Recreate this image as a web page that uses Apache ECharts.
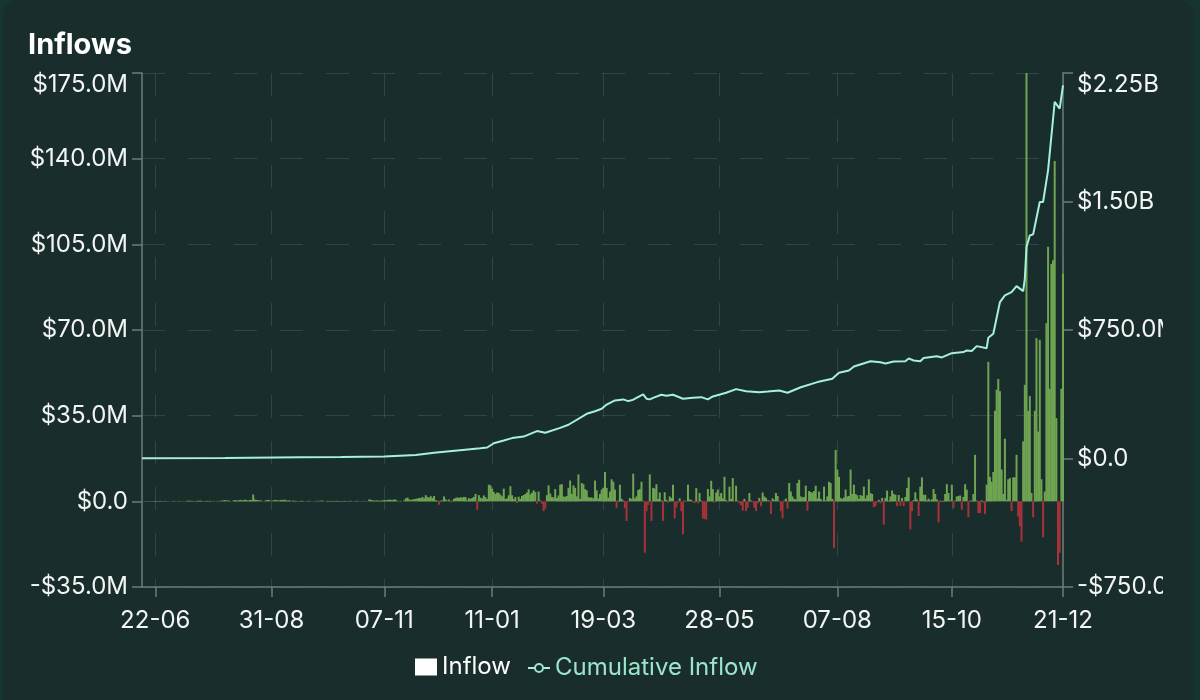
<!DOCTYPE html>
<html>
<head>
<meta charset="utf-8">
<title>Inflows</title>
<script src="https://cdn.jsdelivr.net/npm/echarts@6/dist/echarts.min.js"></script>
<style>
    html, body { margin: 0; height: 100%; background: #17352f; overflow: hidden; }
    #card { position: absolute; left: 3px; top: 0; width: 1191px; height: 700px; background: #192d2c; border-radius: 16px 16px 0 0; }
    #chart { position: absolute; left: 0; top: 0; width: 1163px; height: 700px; }
</style>
</head>
<body>
<div id="card"></div>
<div id="chart"></div>
<script>
// one bar per day, first day is 14-06
var startDay = [2024, 5, 14];

// daily inflow, $M (20 per row)
var inflow = [
    0,0,0.1,0,0.1,0.1,-0.1,0.1,0.2,0.1,0.1,0.2,-0.1,0.1,0.2,0.1,0.1,-0.1,0.1,0.2,
    0.1,-0.1,0.2,0.1,0.1,-0.2,0.1,0.2,0.3,0.2,0.2,0.1,-0.1,0.2,0.2,0.3,0.2,-0.1,0.1,0.2,
    0.1,0.2,0.1,0.2,-0.1,0.1,0.2,0.1,0.3,0.4,0.5,0.3,0.4,0.2,-0.1,0.3,0.5,0.4,0.3,0.6,
    0.5,0.4,0.7,0.5,0.3,0.6,0.5,2.8,0.7,0.6,0.5,0.4,0.3,-0.2,0.2,0.5,0.6,0.4,-0.2,0.3,
    0.6,0.5,0.4,0.4,0.6,0.5,0.7,0.4,0.3,0.4,-0.1,0.3,0.2,0.2,-0.1,0.1,0.2,0.2,-0.2,0.1,
    0.2,0.2,0.1,-0.1,0.1,0.2,0.2,0.2,0.3,0.3,-0.1,0.1,0.2,0.1,0.2,0.1,0.1,0.2,0.2,0.1,
    0.1,0.1,0.2,0.1,-0.1,0.2,0.2,0.1,0.1,0.2,0.2,0.1,0.1,0.1,0.2,-0.1,0.1,0.8,0.6,0.4,
    0.3,0.3,0.4,0.2,0.3,0.4,0.5,0.4,0.6,0.7,0.6,0.5,0.8,0.6,0.2,0.1,0.2,0,0.4,1.2,
    1.5,0.8,0.6,0.7,0.9,1.0,1.2,1.4,1.3,1.8,1.2,2.5,1.8,1.5,2.1,1.4,2.2,0.5,0.2,-1.4,
    0.3,0.4,2.0,0.8,0.3,0.8,-0.5,0.3,1.0,1.4,1.6,1.4,1.7,1.5,1.8,1.7,0.4,1.3,1.0,1.4,
    1.8,3.0,-3.5,2.5,1.5,1.2,2.4,1.7,1.0,6.8,6.5,5.2,3.8,3.0,3.6,3.4,2.7,2.0,5.2,1.0,
    1.2,2.5,6.2,2.5,1.0,1.8,-0.7,1.9,1.0,2.2,2.6,3.0,3.6,4.9,2.8,3.5,4.5,3.8,-1.0,4.0,
    0.3,-1.0,-4.0,-3.0,2.5,6.5,3.2,1.8,1.6,5.0,1.4,2.4,6.8,7.0,2.0,1.8,2.2,5.5,8.5,3.0,
    6.5,5.5,2.0,11,1.0,7.5,7.0,5.0,4.5,1.8,1.5,1.6,1.2,8.5,4.5,1.2,3.0,4.8,5.5,12,
    5.5,1.5,4.0,9.0,8.0,4.8,-2.7,0.3,6.8,1.0,0.3,-2.8,-8.0,0.2,1.4,1.0,11.3,1.2,2.0,4.6,
    5.0,8.0,0.2,-21,-4.0,-1.5,11,-8,5.5,5.2,7.0,1.0,3.6,0.4,-8,3.7,0.6,-0.5,2.0,1.4,
    6.8,-7,-2.5,-0.6,1.2,-4,-13.5,0.3,-0.3,6.8,0.8,0.6,-0.4,-0.7,5.4,-0.8,3.4,0.3,-7,-7.2,
    -7.5,5.0,2.0,8.4,5.0,-0.5,3.6,4.8,2.0,3.4,1.2,10,0.5,-0.4,6.0,1.0,9.5,-0.3,6.4,0.3,
    -0.8,-1.6,-3.8,1.0,-4.0,-2.6,3.4,0.3,-0.4,-2.6,-4.0,-0.8,1.4,-2.0,3.6,2.0,1.4,0.4,0.3,-5.2,
    1.2,0.5,3.4,2.2,0.2,-4,-7,0.3,1.1,-3,7.5,4.0,2.0,1.0,0.8,7.5,8.8,2.0,1.6,1.8,
    6.4,-3.8,4.2,3.8,3.5,4.2,6.4,1.2,4.0,1.0,0.3,6.0,0.4,2.0,8.0,7.5,1.0,-19,21,13,
    10,1.4,1.0,1.6,4.8,2.0,2.2,13,3.0,6.8,3.0,2.5,1.0,2.6,2.2,6.0,1.2,2.5,9.0,3.4,
    3.0,-2.4,-2.0,-0.5,0.6,-0.8,1.4,-9.5,1.4,4.4,0.3,2.0,4.4,3.0,2.7,-2.0,2.6,-1.8,1.4,-2.0,
    1.8,5.4,9.8,-11.5,-4.0,0.5,3.7,0.8,-6,6.0,9.8,2.7,2.7,0.4,1.1,0.3,0.8,5.0,3.0,0.8,
    -8.6,0.3,-0.4,0.3,3.0,7.0,3.4,0.4,6.8,-2.7,0.3,2.0,2.2,2.4,-3.4,1.8,7.0,4.8,-6.5,0.3,
    0.3,3.0,19,0.3,-4.8,-4.8,0.4,-0.6,-5.2,6.8,57,10,8.0,12,37,45.6,50,45,13,3.0,
    25.6,0.7,9,9.5,-4,9.8,9.8,19,-6.2,-10.2,-16.5,24.5,47.6,182,37,43,3.4,-6.5,37,66.7,
    28.5,66,9,-14.7,4,72.8,104,46,97,98.5,139,34,-26,-21,46,93
];

// cumulative inflow, $M, the line's bends: day number and value
var cumulativeDay = [0,50,95,120,146,165,176,190,204,208,212,218,223,230,238,243,252,257,268,273,277,280,285,290,293,296,302,304,306,308,313,316,320,326,332,337,341,344,352,358,364,372,377,384,389,397,407,416,417,420,426,429,439,445,448,453,460,462,465,469,471,479,482,488,495,497,500,503,509,510,513,517,520,524,527,531,532,533,535,537,541,543,546,550,551,553,555];
var cumulativeValue = [2,3,8,9,12,20,33,47,60,64,89,105,119,128,160,150,179,197,261,276,290,315,339,345,335,343,374,349,345,354,372,366,372,349,354,358,345,362,384,405,393,387,391,397,384,416,446,465,456,500,514,537,568,562,555,566,568,584,572,568,586,597,590,615,621,631,627,656,644,705,728,913,952,971,1006,977,1049,1234,1302,1308,1497,1497,1682,2081,2091,2042,2178];

// where the date ticks sit and what the axes print
var tickDays = [8,78,146,211,278,348,419,488,555];
var leftLabels = ['-$35.0M','$0.0','$35.0M','$70.0M','$105.0M','$140.0M','$175.0M'];
var rightLabels = ['-$750.0M','$0.0','$750.0M','$1.50B','$2.25B'];

var days = inflow.map(function (v, i) {
    var d = new Date(Date.UTC(startDay[0], startDay[1], startDay[2] + i));
    return ('0' + d.getUTCDate()).slice(-2) + '-' + ('0' + (d.getUTCMonth() + 1)).slice(-2);
});

function onTick(index) {
    return tickDays.indexOf(index) !== -1;
}

var fontName = 'Inter';
var axisColor = '#6f7b79';
var gridLine = {show: true, lineStyle: {color: 'rgba(255,255,255,0.11)', width: 1, type: [23, 23]}};

var myChart = echarts.init(document.getElementById('chart'));
var option = {
    animation: false,
    textStyle: {fontFamily: fontName},
    title: {
        text: 'Inflows',
        left: 28,
        top: 31,
        padding: 0,
        textStyle: {color: '#fff', fontSize: 29, fontWeight: 700, fontFamily: fontName}
    },
    legend: [
        {
            left: 415, top: 655, padding: 0,
            itemWidth: 22, itemHeight: 17,
            selectedMode: false,
            data: [{name: 'Inflow', icon: 'rect', itemStyle: {color: '#fff'}}],
            textStyle: {color: '#fff', fontSize: 24, fontFamily: fontName}
        },
        {
            left: 527, top: 656, padding: 0,
            itemWidth: 22, itemHeight: 10,
            selectedMode: false,
            data: [{name: 'Cumulative Inflow', itemStyle: {color: '#192d2c', borderColor: '#9ce5cd', borderWidth: 2}}],
            textStyle: {color: '#9ce5cd', fontSize: 24, fontFamily: fontName}
        }
    ],
    grid: {left: 142, right: 100, top: 73, bottom: 113, containLabel: false, outerBoundsMode: 'none'},
    xAxis: {
        type: 'category',
        data: days,
        boundaryGap: false,
        axisLine: {onZero: false, lineStyle: {color: axisColor, width: 1.5}},
        axisTick: {show: true, interval: onTick, length: 10, lineStyle: {color: axisColor, width: 1.5}},
        axisLabel: {interval: onTick, color: '#f2f5f4', fontSize: 24, margin: 22, fontFamily: fontName},
        splitLine: {show: true, interval: onTick, lineStyle: gridLine.lineStyle}
    },
    yAxis: [
        {
            type: 'value', min: -35, max: 175, interval: 35,
            axisLine: {show: true, lineStyle: {color: axisColor, width: 1.5}},
            axisTick: {show: true, length: 10, lineStyle: {color: axisColor, width: 1.5}},
            axisLabel: {
                color: '#f2f5f4', fontSize: 24, margin: 14, fontFamily: fontName, verticalAlignMaxLabel: 'top',
                formatter: function (v) { return leftLabels[(v + 35) / 35]; }
            },
            splitLine: gridLine
        },
        {
            type: 'value', min: -750, max: 2250, interval: 750,
            position: 'right',
            axisLine: {show: true, lineStyle: {color: axisColor, width: 1.5}},
            axisTick: {show: true, length: 10, lineStyle: {color: axisColor, width: 1.5}},
            axisLabel: {
                color: '#f2f5f4', fontSize: 24, margin: 14, fontFamily: fontName, verticalAlignMaxLabel: 'top',
                formatter: function (v) { return rightLabels[(v + 750) / 750]; }
            },
            splitLine: {show: false}
        }
    ],
    series: [
        {
            name: 'Inflow',
            type: 'bar',
            data: inflow,
            barWidth: 2,
            itemStyle: {
                color: function (p) { return p.value < 0 ? '#a8313a' : '#6fa552'; }
            }
        },
        {
            name: 'Cumulative Inflow',
            type: 'line',
            yAxisIndex: 1,
            data: cumulativeDay.map(function (d, i) { return [d, cumulativeValue[i]]; }),
            symbol: 'circle',
            showSymbol: false,
            lineStyle: {color: '#a6f0dc', width: 2},
            itemStyle: {color: '#a6f0dc'}
        }
    ]
};
myChart.setOption(option);
</script>
</body>
</html>
